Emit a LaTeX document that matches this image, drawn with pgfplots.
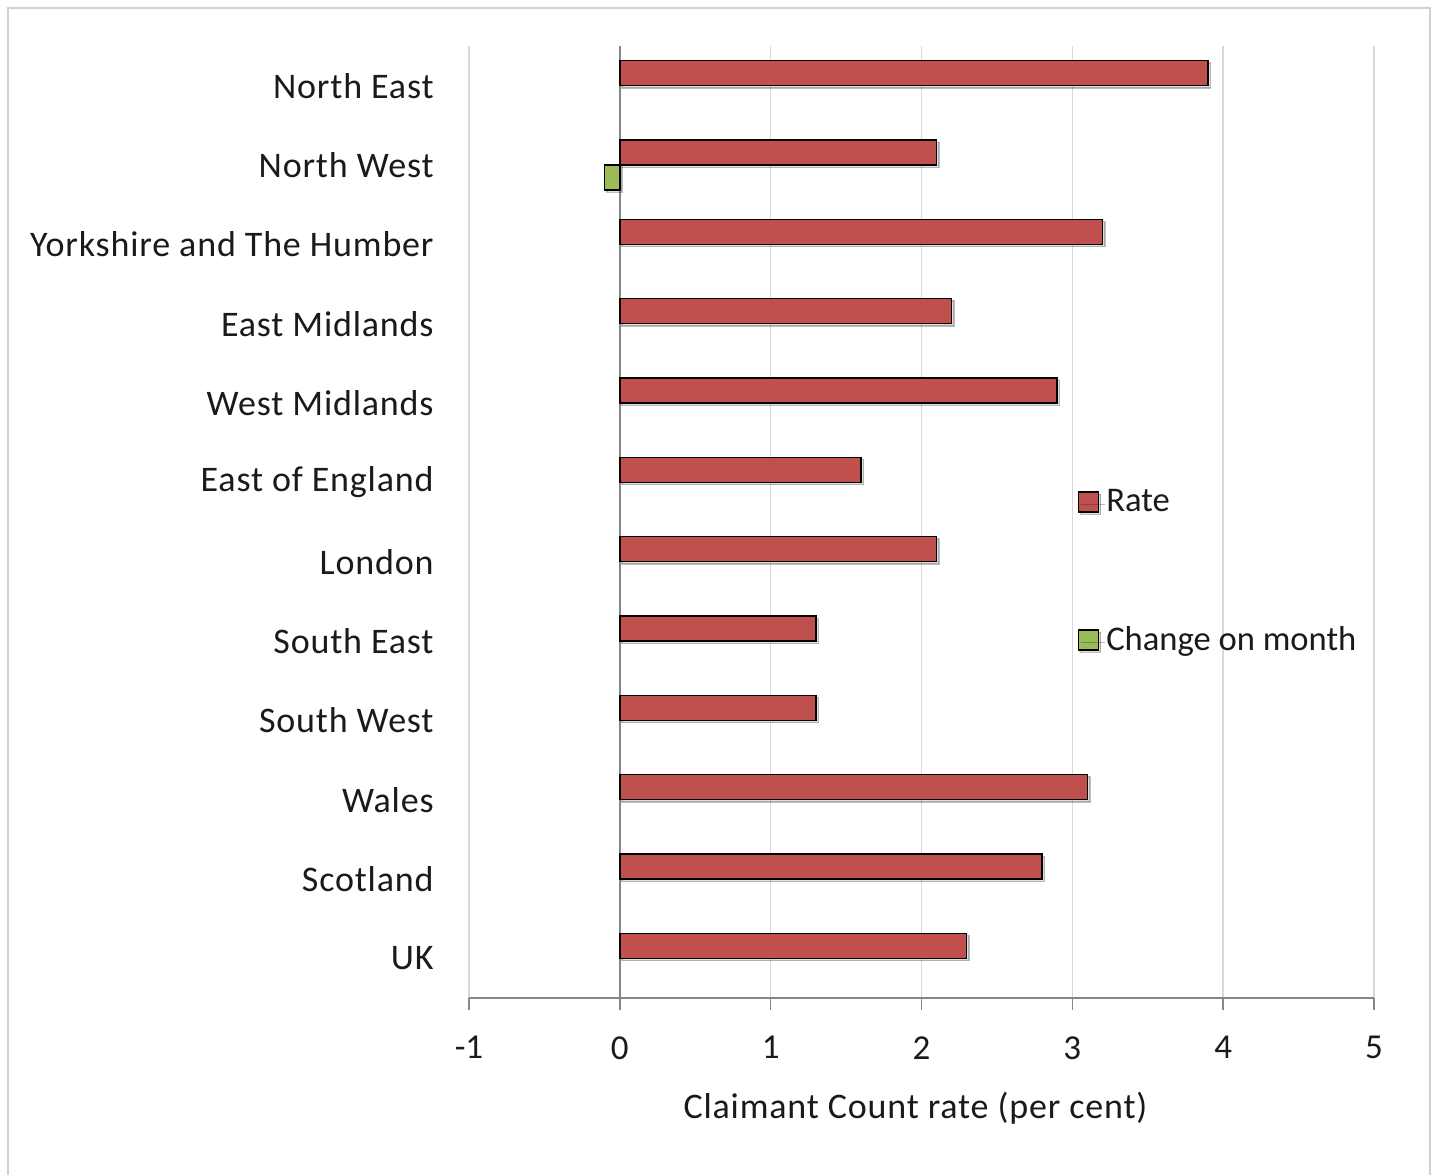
\documentclass[border=0pt]{standalone}
\usepackage{pgfplots}
\usepackage{pgfplotstable}
\pgfplotsset{compat=1.18}
\usetikzlibrary{shadows}
\usepackage{fontspec}
\setmainfont{Carlito}
\newfontfamily\spacedfont[LetterSpace=2.3]{Carlito}
\definecolor{ratered}{HTML}{C0504D}
\definecolor{chggreen}{HTML}{9BBB59}
\definecolor{gridgrey}{HTML}{D9D9D9}
\definecolor{axisgrey}{HTML}{868686}
\definecolor{framegrey}{HTML}{D0D0D0}
\definecolor{txt}{HTML}{1A1A1A}

\pgfplotstableread{
pos rate change
11 3.9 0
10 2.1 -0.1
9 3.2 0
8 2.2 0
7 2.9 0
6 1.6 0
5 2.1 0
4 1.3 0
3 1.3 0
2 3.1 0
1 2.8 0
0 2.3 0
}\datatable

\newcommand{\chfont}{\fontsize{17.5}{21}\selectfont}
\newcommand{\labfont}{\spacedfont\fontsize{18}{22}\selectfont}
\newcommand{\legfont}{\fontsize{17.3}{20}\selectfont}

\begin{document}
\begin{tikzpicture}
\useasboundingbox (-234.5pt,-88pt) rectangle (483.5pt,499pt);
\draw[framegrey, line width=0.8pt] (-230.5pt,-95pt) -- (-230.5pt,495pt) -- (480.5pt,495pt) -- (480.5pt,-95pt);
\begin{axis}[
  scale only axis,
  width=452.5pt, height=476pt,
  xmin=-1, xmax=5,
  ymin=-0.5, ymax=11.5,
  xbar,
  bar width=12.5pt,
  axis x line=bottom,
  axis y line=left,
  x axis line style={axisgrey, line width=0.8pt, -},
  y axis line style={draw=none},
  xtick={-1,0,1,2,3,4,5},
  xticklabels={-1,0,1,2,3,4,5},
  xmajorgrids,
  grid style={gridgrey, line width=0.8pt},
  extra x ticks={0},
  extra x tick labels={},
  extra x tick style={grid style={axisgrey, line width=0.8pt}},
  tick align=outside,
  major tick length=6pt,
  x tick style={axisgrey, line width=0.8pt},
  ytick={0,...,11},
  yticklabels={UK,Scotland,Wales,South West,South East,London,East of England,West Midlands,East Midlands,Yorkshire and The Humber,North West,North East},
  y tick style={draw=none},
  yticklabel style={anchor=east, inner sep=0pt, xshift=-11.5pt, font=\labfont, text=txt},
  xticklabel style={font=\chfont, anchor=north, inner sep=0pt, yshift=-13pt, text=txt},
  xlabel={Claimant Count rate (per cent)},
  xlabel style={font=\labfont, text=txt, at={(axis description cs:0.5,0)}, anchor=center, yshift=-55pt, xshift=-3pt},
  legend style={at={(rel axis cs:0.672,0.539)}, anchor=north west, draw=none, fill=none, font=\legfont, text=txt, row sep=52pt, inner sep=0pt},
  legend cell align=left,
  legend image code/.code={\draw[#1, draw=black, line width=0.7pt] (0pt,-5pt) rectangle (10pt,5pt); \path[draw=none, fill=none] (0pt,0pt) -- (12pt,0pt);},
]
\addplot[fill=ratered, draw=black, line width=0.75pt, bar shift=6.25pt,
  drop shadow={shadow xshift=1.2pt, shadow yshift=-1.2pt, opacity=0.25}] table[x=rate, y=pos] {\datatable};
\addlegendentry{Rate}
\addplot[fill=chggreen, draw=black, line width=0.75pt, bar shift=-6.25pt,
  drop shadow={shadow xshift=1.2pt, shadow yshift=-1.2pt, opacity=0.25},
  x filter/.expression={x==0 ? nan : x}] table[x=change, y=pos] {\datatable};
\addlegendentry{Change on month}
\end{axis}
\end{tikzpicture}
\end{document}
